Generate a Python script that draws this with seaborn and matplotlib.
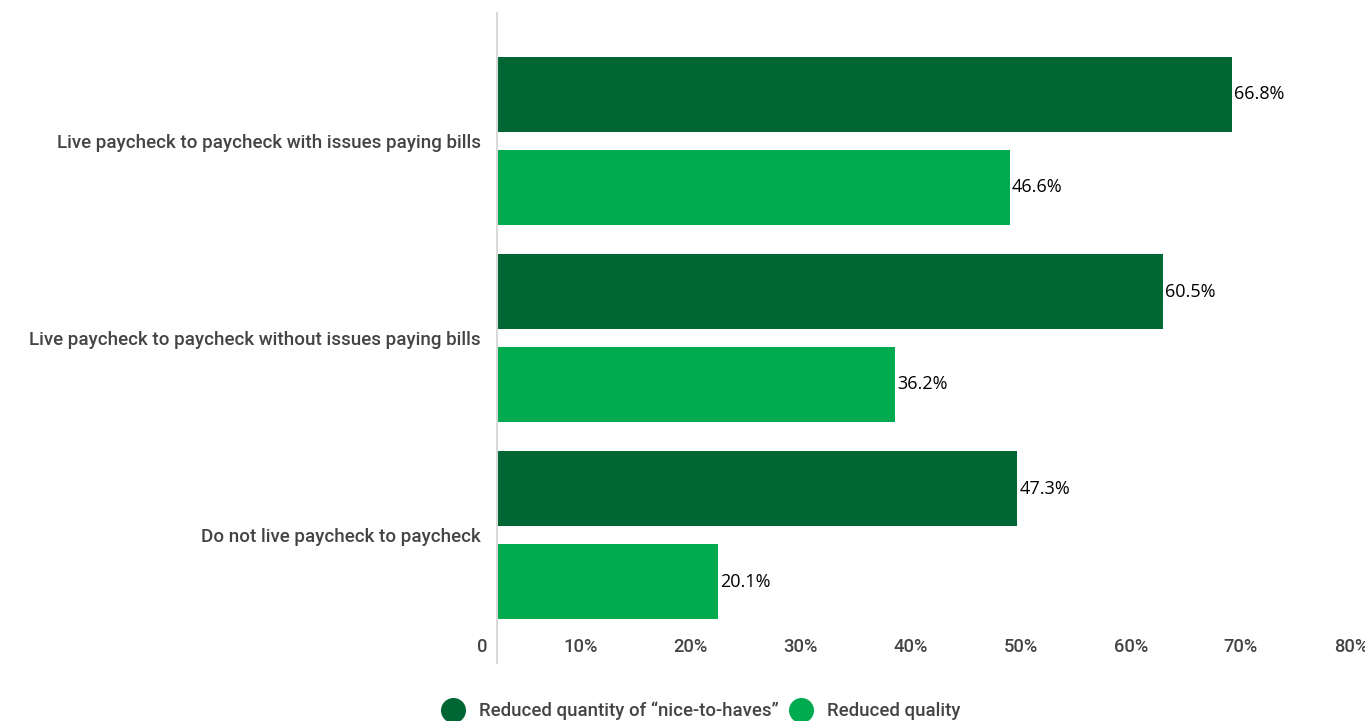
import matplotlib
matplotlib.use("Agg")
import matplotlib.pyplot as plt
import matplotlib.transforms as mtransforms
from matplotlib.lines import Line2D
import seaborn as sns
import pandas as pd

categories = [
    "Live paycheck to paycheck with issues paying bills",
    "Live paycheck to paycheck without issues paying bills",
    "Do not live paycheck to paycheck",
]
series_names = ["Reduced quantity of \u201cnice-to-haves\u201d", "Reduced quality"]
quantity_vals = [66.8, 60.5, 47.3]
quality_vals = [46.6, 36.2, 20.1]
x_ticks = [0, 10, 20, 30, 40, 50, 60, 70, 80]
x_tick_labels = ["0", "10%", "20%", "30%", "40%", "50%", "60%", "70%", "80%"]

colors = ["#006633", "#00AA4F"]

df = pd.DataFrame({
    "category": categories * 2,
    "series": [series_names[0]] * 3 + [series_names[1]] * 3,
    "value": quantity_vals + quality_vals,
})

sns.set_theme(style="white")
plt.rcParams["font.family"] = ["Roboto", "DejaVu Sans"]

fig = plt.figure(figsize=(13.65, 7.21), dpi=100)
ax = fig.add_axes([497 / 1365, 1 - 663 / 721, 880 / 1365, 650 / 721])

sns.barplot(data=df, y="category", x="value", hue="series", orient="h",
            palette=colors, width=0.942, gap=0.193, ax=ax, legend=False,
            saturation=1, errorbar=None, linewidth=0)

ax.set_xlim(0, 80)
ax.set_ylim(2.646, -0.646)
ax.set_xlabel("")
ax.set_ylabel("")

for s in ["top", "right", "bottom"]:
    ax.spines[s].set_visible(False)
ax.spines["left"].set_color("#d9d9d9")
ax.spines["left"].set_linewidth(1.5)

ax.set_xticks(x_ticks)
ax.set_xticklabels(x_tick_labels, fontsize=13.2, color="#444444", fontweight="medium")
ax.tick_params(axis="x", length=0, pad=-18)
offset = mtransforms.ScaledTranslation(-9 / 100, 0, fig.dpi_scale_trans)
for lab in ax.get_xticklabels():
    lab.set_horizontalalignment("right")
    lab.set_verticalalignment("top")
    lab.set_transform(lab.get_transform() + offset)

ax.tick_params(axis="y", length=0, pad=11.5)
for lab in ax.get_yticklabels():
    lab.set_fontsize(13.5)
    lab.set_color("#444444")
    lab.set_fontweight("medium")

for cont in ax.containers:
    ax.bar_label(cont, fmt="%.1f%%", padding=1.5, fontsize=13, color="#000000",
                 family=["Open Sans", "DejaVu Sans"], fontweight="medium")

handles = [Line2D([0], [0], marker="o", linestyle="none", markersize=17,
                  markerfacecolor=c, markeredgecolor=c) for c in colors]
fig.legend(handles, series_names, loc="center", bbox_to_anchor=(702 / 1365, 1 - 711 / 721),
           ncol=2, frameon=False, prop={"size": 13.4, "weight": "medium"},
           labelcolor="#444444", handletextpad=0.9, columnspacing=0.7, handlelength=1.0)

fig.savefig("out.png", dpi=100)
